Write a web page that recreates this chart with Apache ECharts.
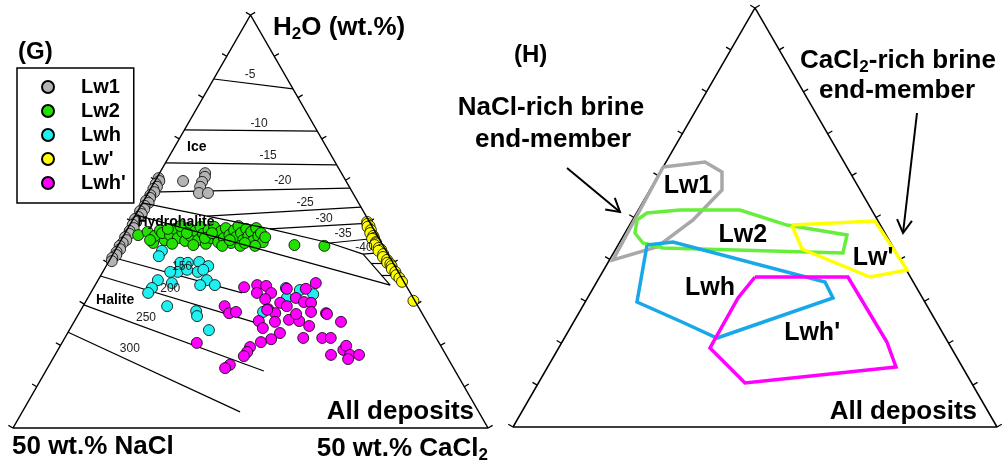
<!DOCTYPE html>
<html>
<head>
<meta charset="utf-8">
<script src="https://cdn.jsdelivr.net/npm/echarts@6/dist/echarts.min.js"></script>
<style>
html, body { margin: 0; padding: 0; background: #fff; }
#main { width: 1007px; height: 467px; }
</style>
</head>
<body>
<div id="main"></div>
<script>
// points are [H2O, CaCl2] in % of the triangle, NaCl = 100 - H2O - CaCl2
var lw1 = [[60.5,0.4],[59.8,0.9],[59.1,0.5],[58.4,1.1],[57.9,0.6],[57.1,1.2],[56.4,0.7],[55.7,1.0],[55.0,0.5],[54.5,1.3],
  [53.8,0.8],[53.0,1.1],[52.5,0.5],[51.8,1.2],[51.1,0.8],[50.6,0.4],[49.9,1.0],[49.2,0.6],[48.4,1.2],[47.7,0.7],
  [47.0,1.0],[46.2,0.5],[45.5,1.1],[44.8,0.7],[44.1,0.4],[43.3,0.9],[42.6,0.5],[41.9,0.8],[41.2,0.3],[40.4,0.6],
  [59.8,5.9],[61.7,9.6],[60.8,10.0],[59.6,10.0],[58.4,10.2],[56.9,10.7],[56.9,12.6]];
var lw2 = [[46.7,3.0],[44.8,7.1],[47.5,4.6],[46.5,6.6],[47.9,7.0],[45.5,9.2],[47.2,7.8],[46.7,9.7],[48.2,10.0],[46.0,11.7],
  [47.5,11.9],[45.3,13.6],[48.4,12.6],[46.5,14.1],[47.7,14.5],[45.5,16.2],[48.7,15.1],[47.0,16.5],[44.6,18.3],[47.9,17.2],
  [46.0,18.7],[48.7,18.0],[46.7,19.4],[45.0,20.7],[47.7,20.0],[46.0,21.4],[48.4,20.6],[46.7,22.2],[44.8,23.5],[47.9,22.6],
  [46.2,23.8],[48.9,23.0],[47.2,24.4],[45.5,25.7],[48.2,25.0],[46.5,26.3],[47.5,26.4],[45.3,27.9],[48.4,27.0],[46.5,28.4],
  [47.2,28.6],[45.0,30.1],[46.2,30.0],[45.5,6.1],[44.6,11.2],[44.3,15.8],[48.9,10.8],[44.1,22.0],[44.1,25.8],[44.1,28.9],
  [44.3,37.1],[44.1,43.5],[46.0,17.4],[45.5,22.9],[44.8,26.4],[47.2,18.3],[47.2,13.0],[48.2,8.5]];
var lwh = [[42.9,9.9],[41.6,9.9],[40.0,15.2],[37.8,15.8],[37.8,14.2],[40.0,16.8],[40.2,19.1],[39.2,21.5],[37.8,20.0],
  [38.3,20.9],[38.3,17.5],[35.8,22.9],[34.6,22.1],[34.6,25.2],[35.8,12.6],[33.9,12.3],[32.7,12.1],[35.1,15.9],[29.5,17.7],
  [28.3,24.4],[27.1,25.2],[23.7,29.4],[33.9,40.5],[31.5,41.9],[33.4,43.7],[32.4,47.0],[28.1,38.6]];
var lwP = [[49.9,49.6],[49.4,49.9],[48.9,50.6],[48.7,50.3],[47.9,51.4],[47.2,51.6],[46.5,52.6],[46.0,53.0],[45.8,52.7],
  [45.0,53.9],[44.7,54.0],[44.3,54.0],[43.6,55.2],[43.2,55.9],[42.9,55.5],[42.1,56.9],[41.4,57.2],[40.7,58.4],[40.0,58.8],
  [39.7,59.6],[39.2,60.1],[38.5,60.5],[37.8,61.6],[37.0,62.2],[36.3,63.2],[35.4,64.2],[30.8,68.9]];
var lwhP = [[34.1,31.6],[34.6,34.1],[34.4,36.1],[32.7,35.0],[32.7,38.0],[31.2,37.5],[33.7,40.8],[33.7,44.8],[35.1,46.2],
  [31.5,43.8],[30.5,46.0],[30.3,47.6],[30.3,41.1],[29.5,42.9],[28.8,39.3],[27.8,41.3],[29.5,29.8],[27.8,31.6],[28.1,32.9],
  [25.7,42.3],[25.9,38.8],[24.2,40.5],[26.2,45.0],[25.9,47.3],[27.6,45.8],[28.1,48.7],[27.8,52.0],[25.7,56.2],[24.7,50.0],
  [23.0,44.7],[21.5,43.6],[20.8,41.8],[19.6,40.1],[18.4,40.1],[17.4,39.9],[21.8,50.2],[21.8,54.2],[21.8,56.0],[17.7,58.1],
  [18.9,60.1],[19.9,60.2],[17.7,62.1],[16.7,62.2],[17.7,64.0],[15.3,38.0],[14.5,37.4],[20.6,28.4],[28.6,39.2],[27.6,52.3]];
var groupNames = ['Lw1', 'Lw2', 'Lwh', "Lw'", "Lwh'"];
var groupColors = ['#b4b4b4', '#22e000', '#20f0f0', '#ffff00', '#ff00ff'];

// phase diagram lines (left panel)
var iceLines = [[[84.5,0],[82.1,17.9]], [[72.2,0],[71.9,28.1]], [[64.2,0],[63.7,36.3]], [[57.1,0],[58.1,41.9]],
  [[51.3,15.2],[53.5,46.5]], [[48.2,30.0],[49.6,50.4]], [[44.8,44.3],[46.0,54.0]], [[42.1,52.65],[42.6,57.4]],
  [[40.0,55.4],[40.0,60.0]], [[37.0,59.0],[37.0,63.0]]];
var iceLabels = ['-5', '-10', '-15', '-20', '-25', '-30', '-35', '-40'];
var iceLabelPos = [[85.5,7.15],[73.8,14.9],[65.9,20.75],[59.8,26.9],[54.5,34.25],[50.6,40.2],[47.0,46.0],[43.6,52.1]];
var haliteLines = [[[41.4,0],[32.7,31.85]], [[36.8,0],[25.4,38.7]], [[29.8,0],[13.8,45.9]], [[23.2,0],[3.9,45.85]]];
var haliteLabels = ['150', '200', '250', '300'];
var haliteLabelPos = [[39.0,16.1],[33.7,16.25],[26.6,14.7],[19.1,15.05]];
var iceHydrohalite = [[54.5,0],[51.3,15.2],[48.2,30.0],[44.8,44.3],[42.1,52.65],[34.6,62.1]];
var hydrohaliteHalite = [[51.6,0],[34.6,62.1]];
var fieldLabels = ['Ice', 'Hydrohalite', 'Halite'];
var fieldLabelPos = [[68.0,4.7],[49.9,9.35],[31.0,6.0]];

// outlines of the groups (right panel)
var fieldLw1 = [[62.05,0],[63.25,8.05],[60.86,12.75],[56.56,14.9],[49.4,12.5],[42.96,8.27],[39.86,0.73],[62.05,0]];
var fieldLw2 = [[49.4,0.92],[51.07,2.15],[51.79,8.6],[51.79,21.0],[48.2,32.5],[45.82,46.1],[41.53,47.4],[42.72,9.63],[43.91,4.9],[46.3,2.05],[49.4,0.92]];
var fieldLwh = [[43.44,5.97],[44.15,10.98],[34.61,47.16],[30.79,50.72],[21.24,31.53],[25.06,22.39],[29.83,10.7],[43.44,5.97]];
var fieldLwP = [[48.21,33.5],[49.16,50.2],[37.47,62.7],[35.8,55.86],[42.48,38.47],[48.21,33.5]];
var fieldLwhP = [[35.8,32.1],[35.8,51.3],[20.29,67.1],[14.32,71.97],[10.5,42.68],[18.85,31.28],[30.79,31.1],[35.8,32.1]];
var fieldColors = ['#a8a8a8', '#66ee3a', '#18a8e8', '#ffff00', '#ff00ff'];
var fieldLabelNames = ['Lw1', 'Lw2', 'Lwh', "Lw'", "Lwh'"];
var fieldNamePos = [[57.5,7.4],[45.8,24.6],[33.2,24.1],[40.3,54.25],[22.4,50.6]];

var tickVals = [0, 10, 20, 30, 40, 50, 60, 70, 80, 90, 100];

var F = 'Liberation Sans, Arial, Helvetica, sans-serif';
var S = Math.sqrt(3) / 2;
function xy(p) { return [p[1] + p[0] / 2, p[0] * S]; }

var chart = echarts.init(document.getElementById('main'));

function triangle(i) {
  return {
    type: 'line', xAxisIndex: i, yAxisIndex: i, showSymbol: false, clip: false, silent: true,
    lineStyle: { color: '#000', width: 1.5 },
    data: [[100,0],[0,0],[0,100],[100,0]].map(xy)
  };
}
function ticks(i) {
  var d = 1.3, segs = [];
  tickVals.forEach(function (t) {
    segs.push({ coords: [xy([t, 0]), xy([t + d / 2, -d])] });
    segs.push({ coords: [xy([t, 100 - t]), xy([t + d / 2, 100 - t + d / 2])] });
  });
  return {
    type: 'lines', coordinateSystem: 'cartesian2d', xAxisIndex: i, yAxisIndex: i, silent: true, clip: false,
    lineStyle: { color: '#000', width: 1.3, opacity: 1 }, data: segs
  };
}
function textSeries(i, names, pos, font) {
  return {
    type: 'scatter', xAxisIndex: i, yAxisIndex: i, symbolSize: 1, silent: true, clip: false, z: 5,
    itemStyle: { color: 'rgba(0,0,0,0)', opacity: 1 },
    label: Object.assign({ show: true, position: 'inside', formatter: '{b}', color: '#000', opacity: 1, fontFamily: F }, font),
    data: pos.map(function (p, k) { return { name: names[k], value: xy(p) }; })
  };
}

var series = [triangle(0), ticks(0), triangle(1), ticks(1)];
series.push({
  type: 'lines', coordinateSystem: 'cartesian2d', xAxisIndex: 0, yAxisIndex: 0, silent: true, clip: false,
  lineStyle: { color: '#000', width: 1.2, opacity: 1 },
  data: iceLines.concat(haliteLines).map(function (l) { return { coords: [xy(l[0]), xy(l[1])] }; })
});
[iceHydrohalite, hydrohaliteHalite].forEach(function (l) {
  series.push({
    type: 'line', xAxisIndex: 0, yAxisIndex: 0, showSymbol: false, clip: false, silent: true,
    lineStyle: { color: '#000', width: 1.2 }, data: l.map(xy)
  });
});
series.push(textSeries(0, iceLabels.concat(haliteLabels), iceLabelPos.concat(haliteLabelPos), { fontSize: 12, color: '#222' }));
series.push(textSeries(0, fieldLabels, fieldLabelPos, { fontSize: 14, fontWeight: 'bold' }));

[lw1, lw2, lwh, lwP, lwhP].forEach(function (arr, k) {
  series.push({
    name: groupNames[k], type: 'scatter', xAxisIndex: 0, yAxisIndex: 0, symbolSize: 11, clip: false,
    itemStyle: { color: groupColors[k], borderColor: '#000', borderWidth: 0.8, opacity: 1 },
    data: arr.map(xy)
  });
});

[fieldLw1, fieldLw2, fieldLwh, fieldLwP, fieldLwhP].forEach(function (arr, k) {
  series.push({
    name: fieldLabelNames[k] + ' field', type: 'line', xAxisIndex: 1, yAxisIndex: 1, showSymbol: false, clip: false,
    lineStyle: { color: fieldColors[k], width: 3.5, join: 'miter' }, data: arr.map(xy)
  });
});
series.push(textSeries(1, fieldLabelNames, fieldNamePos, { fontSize: 25, fontWeight: 'bold' }));

function arrow(x1, y1, x2, y2) {
  var L = Math.hypot(x2 - x1, y2 - y1), ux = (x1 - x2) / L, uy = (y1 - y2) / L, a = Math.PI / 6, w = 15;
  var p1 = [x2 + w * (ux * Math.cos(a) - uy * Math.sin(a)), y2 + w * (ux * Math.sin(a) + uy * Math.cos(a))];
  var p2 = [x2 + w * (ux * Math.cos(a) + uy * Math.sin(a)), y2 + w * (-ux * Math.sin(a) + uy * Math.cos(a))];
  return [
    { type: 'line', shape: { x1: x1, y1: y1, x2: x2, y2: y2 }, style: { stroke: '#000', lineWidth: 2 } },
    { type: 'polyline', shape: { points: [p1, [x2, y2], p2] }, style: { stroke: '#000', lineWidth: 2, fill: null } }
  ];
}
function txt(x, y, text, size, align, rich) {
  return {
    type: 'text', x: x, y: y, z: 10,
    style: { text: text, fontSize: size, fontWeight: 'bold', fontFamily: F, fill: '#000',
      align: align || 'left', verticalAlign: 'middle', rich: rich }
  };
}
var sub = {
  a: { fontSize: 26, fontWeight: 'bold', fontFamily: F, lineHeight: 30 },
  s: { fontSize: 17, fontWeight: 'bold', fontFamily: F, lineHeight: 14, verticalAlign: 'bottom' }
};

var graphics = [
  txt(18, 52, '(G)', 24),
  txt(273, 28, '{a|H}{s|2}{a|O (wt.%)}', 26, 'left', sub),
  txt(12, 447, '50 wt.% NaCl', 26),
  txt(488, 449, '{a|50 wt.% CaCl}{s|2}', 26, 'right', sub),
  txt(474, 412, 'All deposits', 26, 'right'),
  txt(514, 55, '(H)', 24),
  txt(551, 108, 'NaCl-rich brine', 26, 'center'),
  txt(553, 140, 'end-member', 26, 'center'),
  txt(898, 61, '{a|CaCl}{s|2}{a|-rich brine}', 26, 'center', sub),
  txt(897, 91, 'end-member', 26, 'center'),
  txt(977, 412, 'All deposits', 26, 'right')
].concat(arrow(567, 168, 620, 212), arrow(917, 113, 903, 233));

chart.setOption({
  animation: false,
  backgroundColor: '#fff',
  grid: [
    { left: 13, top: 15, width: 475, height: 413 },
    { left: 513, top: 8, width: 484, height: 419 }
  ],
  xAxis: [
    { gridIndex: 0, type: 'value', min: 0, max: 100, show: false },
    { gridIndex: 1, type: 'value', min: 0, max: 100, show: false }
  ],
  yAxis: [
    { gridIndex: 0, type: 'value', min: 0, max: 86.6025, show: false },
    { gridIndex: 1, type: 'value', min: 0, max: 86.6025, show: false }
  ],
  legend: {
    data: groupNames, orient: 'vertical', left: 17, top: 68,
    itemWidth: 12, itemHeight: 12, itemGap: 4, icon: 'circle',
    padding: [9, 8, 10, 24], borderColor: '#000', borderWidth: 1.5, borderRadius: 0,
    selectedMode: false,
    textStyle: { fontSize: 20, fontWeight: 'bold', fontFamily: F, color: '#000', lineHeight: 20, padding: [0, 0, 0, 22] }
  },
  graphic: graphics,
  series: series
});
</script>
</body>
</html>
